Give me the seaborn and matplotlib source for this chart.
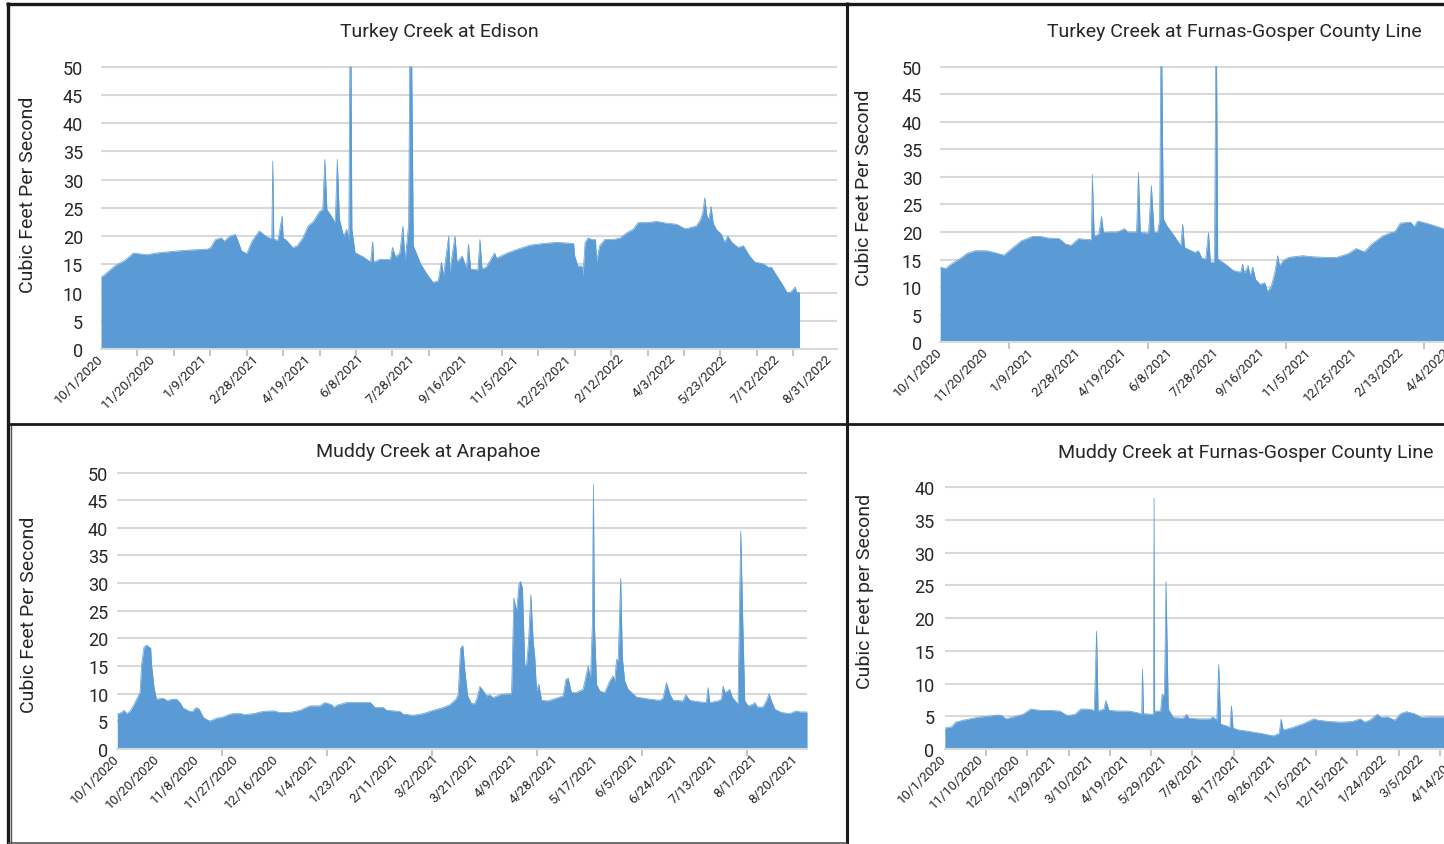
import pandas as pd
import matplotlib
matplotlib.use('Agg')
import matplotlib.pyplot as plt
import seaborn as sns
from matplotlib.lines import Line2D

sns.set_theme(style='white')
plt.rcParams['font.family'] = ['Roboto', 'DejaVu Sans']

W, H = 1444, 845
BLUE = '#5B9BD5'
GRID = '#D9D9D9'
TXT = '#262626'

# ---- Turkey Creek at Edison (day index from 10/1/2020, cfs) ----
edison_day = [0, 3, 13, 22, 28, 31, 44, 53, 69, 82, 102, 105, 110, 116, 118, 124, 129, 131, 135, 140,
              145, 152, 159, 164, 165, 166, 170, 174, 175, 179, 184, 188, 194, 199, 204, 210, 213, 215,
              217, 220, 225, 227, 229, 233, 236, 238, 239, 240.2, 241, 244, 252, 259, 261, 262, 268, 278,
              280, 283, 287, 290, 292, 295.5, 296.5, 298.5, 300, 307, 313, 319, 324, 327, 329, 334, 335,
              340, 342, 347, 351, 353, 355, 362, 364, 366, 370, 378, 380, 390, 402, 412, 425, 438, 454,
              455, 458, 462, 463, 465, 468, 471, 475, 476, 479, 484, 492, 499, 505, 511, 516, 524, 534,
              543, 553, 561, 566, 572, 576, 578, 580, 582, 584, 586, 588, 591, 596, 599, 602, 606, 612,
              617, 623, 628, 636, 641, 644, 649, 654, 659, 662, 667, 668, 671]
edison_cfs = [12.7, 13.1, 14.7, 15.6, 16.5, 17.0, 16.7, 17.0, 17.3, 17.5, 17.7, 17.9, 19.4, 19.7, 19.1,
              20.0, 20.3, 19.4, 17.4, 16.9, 19.1, 20.9, 19.9, 19.5, 33.3, 19.4, 19.3, 23.6, 19.7, 19.1,
              18.0, 18.2, 19.7, 21.8, 22.6, 24.4, 24.7, 33.6, 24.7, 23.9, 22.4, 33.6, 23.0, 20.0, 21.2,
              19.4, 50.0, 50.0, 21.2, 17.1, 16.3, 15.4, 19.0, 15.4, 15.9, 15.9, 18.0, 16.3, 17.0, 21.8,
              15.6, 22.0, 50.0, 50.0, 18.3, 15.1, 13.3, 11.8, 12.1, 15.4, 13.0, 20.0, 13.6, 20.0, 15.4,
              16.5, 14.2, 18.6, 14.2, 14.0, 19.4, 14.2, 14.5, 17.0, 16.1, 17.0, 17.8, 18.4, 18.7, 18.9,
              18.7, 16.5, 14.7, 14.7, 13.0, 18.9, 19.7, 19.4, 19.4, 15.4, 18.3, 19.4, 19.4, 19.7, 20.6,
              21.2, 22.4, 22.4, 22.6, 22.3, 22.1, 21.3, 21.5, 21.8, 23.0, 24.1, 26.8, 23.6, 23.0, 25.3,
              22.3, 21.2, 20.3, 18.9, 20.0, 18.9, 18.0, 18.3, 16.5, 15.4, 15.1, 14.5, 14.5, 13.0, 11.6,
              10.0, 10.0, 11.0, 10.0, 10.0]
edison_labels = ['10/1/2020', '11/20/2020', '1/9/2021', '2/28/2021', '4/19/2021', '6/8/2021',
                 '7/28/2021', '9/16/2021', '11/5/2021', '12/25/2021', '2/12/2022', '4/3/2022',
                 '5/23/2022', '7/12/2022', '8/31/2022']

# ---- Turkey Creek at Furnas-Gosper County Line ----
tfg_day = [0, 6, 12, 21, 29, 38, 50, 58, 69, 77, 88, 100, 109, 117, 129, 136, 142, 150, 161, 164, 165,
           167, 172, 175, 177, 184, 192, 200, 203, 213, 215, 217, 226, 229, 232, 236, 238, 239.2, 240.4,
           242, 246, 255, 261, 263, 265, 276, 280, 284, 288, 291, 293, 297.5, 298.8, 299.8, 301, 309,
           318, 326, 328, 330, 334, 336, 339, 342, 347, 352, 355, 359, 363, 366, 368, 372, 378, 393,
           405, 418, 430, 443, 451, 460, 468, 480, 489, 493, 499, 510, 514, 518, 531, 546, 560]
tfg_cfs = [13.6, 13.4, 14.2, 15.1, 16.1, 16.6, 16.6, 16.3, 15.8, 16.9, 18.4, 19.2, 19.2, 18.9, 18.8, 17.8,
           17.6, 18.8, 18.6, 18.7, 30.4, 19.3, 19.6, 22.8, 19.9, 20.0, 20.0, 20.6, 20.0, 20.0, 30.8, 19.9,
           19.8, 28.4, 19.9, 20.0, 22.3, 50.0, 50.0, 22.4, 21.1, 19.0, 17.5, 21.4, 17.2, 16.3, 16.6, 15.2,
           15.1, 19.9, 14.5, 14.6, 50.0, 50.0, 15.1, 14.2, 13.0, 12.7, 14.2, 12.5, 13.9, 12.0, 13.6, 11.4,
           10.5, 10.8, 9.2, 10.1, 12.7, 15.7, 13.9, 14.8, 15.4, 15.7, 15.5, 15.4, 15.4, 16.1, 17.0, 16.4,
           17.8, 19.3, 19.9, 20.0, 21.6, 21.8, 21.0, 22.0, 21.4, 20.6, 20.8]
tfg_labels = ['10/1/2020', '11/20/2020', '1/9/2021', '2/28/2021', '4/19/2021', '6/8/2021', '7/28/2021',
              '9/16/2021', '11/5/2021', '12/25/2021', '2/13/2022', '4/4/2022']

# ---- Muddy Creek at Arapahoe ----
arap_day = [0, 2, 3.2, 4.4, 6, 7.6, 9.2, 10.8, 11.6, 12.7, 14, 15.1, 15.9, 16.3, 17.5, 18.7, 21.9, 23.8,
            25.9, 28.3, 29.8, 31.4, 34.6, 35.9, 37.5, 39, 41, 44.1, 47.3, 49.7, 53.7, 55.2, 59.2, 60, 64.8,
            69.5, 74.3, 77.5, 82.2, 87, 91.7, 96.5, 98.9, 102.1, 103.2, 104.4, 109.2, 114, 120.6, 122.7,
            126.7, 128.3, 134.6, 136.2, 141, 145.7, 150.5, 155.2, 158.4, 161.3, 162.4, 163.5, 164.6,
            165.6, 166.9, 168.7, 170.3, 171.4, 172.7, 173.8, 175.9, 177.5, 179, 183, 187.8, 188.9, 190.2,
            191.4, 192.1, 193, 194.1, 194.9, 195.9, 197, 198.1, 198.9, 199.7, 200.8, 202.1, 205.2, 207.6,
            210.8, 212.4, 213.7, 214.8, 216.3, 218.7, 221.9, 224.3, 225.4, 226.3, 226.8, 227.3, 228.3,
            229.8, 232.2, 234.6, 236.2, 237, 237.8, 238.6, 239.8, 240.6, 241.7, 243.3, 247.3, 252, 258.4,
            260, 261.6, 263.2, 264.8, 269.5, 270.8, 272.7, 275.9, 280.6, 281.4, 282.2, 286.2, 287.8,
            288.6, 289.4, 291, 291.7, 293, 295.7, 296.5, 297, 297.8, 298.9, 300.5, 302.9, 303.7, 304.8,
            307.6, 309.2, 310.5, 311.6, 313.2, 316.3, 320.3, 323.5, 325.1, 328.6]
arap_cfs = [6.3, 6.6, 7.0, 6.4, 6.8, 7.8, 9.0, 10.2, 15.3, 18.4, 18.8, 18.4, 18.3, 15.3, 11.1, 9.0, 9.2, 8.7,
            9.0, 9.0, 8.4, 7.4, 6.8, 6.8, 7.5, 7.2, 5.7, 5.0, 5.6, 5.7, 6.3, 6.4, 6.4, 6.2, 6.4, 6.8, 6.9,
            6.6, 6.6, 7.0, 7.8, 7.8, 8.4, 8.0, 7.5, 7.9, 8.4, 8.4, 8.4, 7.5, 7.5, 7.0, 6.8, 6.3, 6.1, 6.4,
            7.0, 7.5, 8.0, 9.0, 9.9, 18.2, 18.7, 14.0, 9.6, 8.2, 8.2, 9.3, 11.3, 10.8, 9.6, 9.8, 9.3, 9.9,
            10.0, 27.3, 24.9, 29.9, 30.3, 29.1, 15.3, 15.0, 19.5, 27.9, 19.5, 16.5, 10.5, 11.7, 8.8, 8.7,
            9.0, 9.4, 9.6, 12.6, 12.8, 10.2, 10.2, 10.8, 15.0, 12.6, 22.5, 47.8, 22.5, 11.7, 10.5, 10.2,
            12.3, 13.2, 12.3, 16.2, 15.9, 30.9, 16.5, 12.3, 10.8, 9.4, 9.1, 8.8, 9.2, 12.0, 9.9, 8.8, 8.7,
            9.8, 8.8, 8.6, 8.4, 11.1, 8.4, 8.7, 9.0, 11.4, 10.2, 10.5, 10.8, 9.3, 8.1, 28.5, 39.4, 25.5,
            8.7, 7.8, 8.1, 8.4, 7.6, 7.6, 8.7, 10.0, 8.7, 7.2, 6.6, 6.4, 6.9, 6.7, 6.7]
arap_labels = ['10/1/2020', '10/20/2020', '11/8/2020', '11/27/2020', '12/16/2020', '1/4/2021', '1/23/2021',
               '2/11/2021', '3/2/2021', '3/21/2021', '4/9/2021', '4/28/2021', '5/17/2021', '6/5/2021',
               '6/24/2021', '7/13/2021', '8/1/2021', '8/20/2021']

# ---- Muddy Creek at Furnas-Gosper County Line ----
mfg_day = [0, 7.6, 11.8, 20.2, 30.7, 39.1, 47.5, 58, 62.2, 66.4, 74.8, 85.3, 93.7, 104.2, 114.7, 125.2,
           133.6, 142, 148.3, 156.7, 163, 165.5, 167.2, 173.5, 175.6, 179, 188.2, 200.8, 211.3, 214.7,
           215.5, 216.8, 226.1, 227.6, 228.2, 228.8, 230.3, 235.3, 237, 239.5, 241.2, 243.7, 249.2, 259.7,
           263.9, 266, 276.5, 289.1, 292.4, 296.6, 298.7, 300.8, 305.9, 310.9, 312.6, 314.3, 320.6, 331.1,
           339.5, 347.9, 358.4, 364.7, 366.8, 368.9, 377.3, 389.9, 402.5, 406.7, 419.3, 431.9, 444.5,
           452.9, 458, 463.4, 471.8, 476, 482.4, 490.8, 497.1, 503.4, 511.8, 520.2, 526.5, 544.5, 560]
mfg_cfs = [3.2, 3.4, 4.1, 4.4, 4.7, 4.9, 5.0, 5.2, 5.1, 4.6, 4.9, 5.3, 6.1, 5.9, 5.9, 5.8, 5.1, 5.3, 6.1,
           6.1, 5.9, 18.0, 5.8, 6.1, 7.4, 5.9, 5.8, 5.8, 5.5, 5.3, 12.2, 5.4, 5.3, 5.4, 38.3, 5.6, 5.8, 5.8,
           8.4, 8.1, 25.6, 6.1, 4.8, 4.7, 5.3, 4.7, 4.6, 4.6, 4.9, 4.4, 12.9, 3.8, 3.6, 3.3, 6.6, 3.2, 2.9,
           2.7, 2.5, 2.3, 2.0, 2.4, 4.6, 2.9, 3.2, 3.8, 4.6, 4.4, 4.2, 4.1, 4.2, 4.6, 4.1, 4.4, 5.3, 4.8,
           4.9, 4.4, 5.4, 5.7, 5.4, 4.8, 4.9, 4.9, 4.9]
mfg_labels = ['10/1/2020', '11/10/2020', '12/20/2020', '1/29/2021', '3/10/2021', '4/19/2021', '5/29/2021',
              '7/8/2021', '8/17/2021', '9/26/2021', '11/5/2021', '12/15/2021', '1/24/2022', '3/5/2022',
              '4/14/2022']

fig = plt.figure(figsize=(W / 100, H / 100), dpi=100)
fig.patch.set_facecolor('white')


def fx(x):
    return x / W


def fy(y):
    return 1 - y / H


def panel(box, days, cfs, xmax, ymax, labels, label_step, tick_step, ypad):
    left, top, right, bottom = box
    ax = fig.add_axes([fx(left), fy(bottom), (right - left) / W, (bottom - top) / H])
    df = pd.DataFrame({'day': days, 'cfs': cfs})
    ax.fill_between(df['day'], df['cfs'], color=BLUE, lw=0, zorder=2)
    sns.lineplot(data=df, x='day', y='cfs', ax=ax, color=BLUE, lw=0.5, zorder=3)
    ax.set_xlim(0, xmax)
    ax.set_ylim(0, ymax * 1.003)
    ax.set_yticks(range(0, ymax + 1, 5))
    ax.set_axisbelow(True)
    ax.grid(False)
    ax.yaxis.grid(True, color=GRID, lw=1.5)
    for s in ['top', 'left', 'right']:
        ax.spines[s].set_visible(False)
    ax.spines['bottom'].set_color(GRID)
    ax.spines['bottom'].set_linewidth(1.5)
    ax.set_xlabel('')
    ax.set_ylabel('')
    ax.set_xticks([label_step * i for i in range(len(labels))], labels)
    ax.set_xticks([tick_step * i for i in range(int(xmax // tick_step) + 1)], minor=True)
    ax.tick_params(axis='x', which='major', length=0, pad=5, labelsize=9.5, colors=TXT)
    ax.tick_params(axis='x', which='minor', length=5, width=1.3, color='#BFBFBF', bottom=True)
    ax.tick_params(axis='y', length=0, pad=ypad, labelsize=13, colors=TXT)
    plt.setp(ax.get_xticklabels(), rotation=45, ha='right', va='center', rotation_mode='anchor')
    return ax


panel((101, 67, 837, 350), edison_day, edison_cfs, 707, 50, edison_labels, 50, 35, 13)
panel((940.2, 66.7, 1585.6, 343.3), tfg_day, tfg_cfs, 700, 50, tfg_labels, 50, 75, 13)
panel((117.3, 472.7, 807.3, 750), arap_day, arap_cfs, 328.7, 50, arap_labels, 19, 50, 6.5)
panel((944.8, 487.3, 1586.7, 750), mfg_day, mfg_cfs, 700, 40, mfg_labels, 40, 45, 7.5)

# titles and axis titles
fig.text(fx(439), fy(32), 'Turkey Creek at Edison', ha='center', va='center', fontsize=14, color=TXT)
fig.text(fx(1234), fy(32), 'Turkey Creek at Furnas-Gosper County Line', ha='center', va='center',
         fontsize=14, color=TXT)
fig.text(fx(428), fy(452), 'Muddy Creek at Arapahoe', ha='center', va='center', fontsize=14, color=TXT)
fig.text(fx(1246), fy(453), 'Muddy Creek at Furnas-Gosper County Line', ha='center', va='center',
         fontsize=14, color=TXT)
fig.text(fx(28), fy(195), 'Cubic Feet Per Second', rotation=90, ha='center', va='center',
         fontsize=14, color=TXT)
fig.text(fx(864), fy(188), 'Cubic Feet Per Second', rotation=90, ha='center', va='center',
         fontsize=14, color=TXT)
fig.text(fx(29), fy(615), 'Cubic Feet Per Second', rotation=90, ha='center', va='center',
         fontsize=14, color=TXT)
fig.text(fx(865), fy(591), 'Cubic Feet per Second', rotation=90, ha='center', va='center',
         fontsize=14, color=TXT)


def border(x0, y0, x1, y1, lw, color='#1A1A1A'):
    fig.add_artist(Line2D([fx(x0), fx(x1)], [fy(y0), fy(y1)], transform=fig.transFigure,
                          color=color, lw=lw, solid_capstyle='butt'))


border(6, 4.5, 1444, 4.5, 2.4)
border(7.5, 3, 7.5, 845, 2.4)
border(10.8, 425, 10.8, 845, 1.0, '#555555')
border(7, 425, 1444, 425, 2.0)
border(847, 3, 847, 845, 2.2)
border(8, 843.5, 847, 843.5, 1.2, '#555555')

fig.savefig('out.png', dpi=100)
